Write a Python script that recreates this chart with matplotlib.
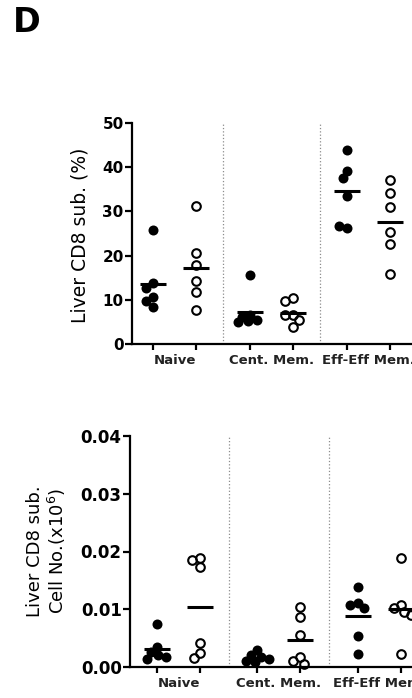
import numpy as np
import matplotlib
matplotlib.use("Agg")
import matplotlib.pyplot as plt

# groups, same for both panels
groups = ["Naive", "Cent. Mem.", "Eff-Eff Mem."]

# panel 1: Liver CD8 sub. (%), filled = group A, open = group B
pct_naive_a = [25.7, 13.7, 12.7, 10.6, 9.7, 8.4]
pct_naive_b = [31.3, 20.5, 17.9, 14.3, 11.8, 7.8]
pct_cent_a = [15.6, 6.5, 6.0, 5.5, 5.2, 5.0]
pct_cent_b = [10.3, 9.8, 6.6, 6.6, 5.4, 3.8]
pct_eff_a = [44.0, 39.1, 37.5, 33.5, 26.3, 26.8]
pct_eff_b = [37.1, 34.1, 31.1, 25.4, 22.6, 15.8]

# panel 2: Liver CD8 sub. cell number (x10^6)
num_naive_a = [0.0074, 0.0035, 0.0026, 0.0021, 0.0017, 0.0014]
num_naive_b = [0.0188, 0.0186, 0.0173, 0.0042, 0.0024, 0.0015]
num_cent_a = [0.0029, 0.0020, 0.0017, 0.0013, 0.0010, 0.0008]
num_cent_b = [0.0104, 0.0086, 0.0056, 0.0017, 0.0010, 0.0005]
num_eff_a = [0.0138, 0.0110, 0.0107, 0.0102, 0.0054, 0.0022]
num_eff_b = [0.0188, 0.0108, 0.0102, 0.0095, 0.0090, 0.0022]

pct_ticks = [0, 10, 20, 30, 40, 50]
num_ticks = [0.00, 0.01, 0.02, 0.03, 0.04]


def swarm(ax, vals, x0, d_px=8.0, max_px=12.0):
    # simple beeswarm in pixel space so dots don't pile up
    pts = ax.transData.transform(np.column_stack([np.full(len(vals), x0), vals]))
    ux = ax.transData.transform((1, 0))[0] - ax.transData.transform((0, 0))[0]
    placed = []
    offs = []
    for y in pts[:, 1]:
        cands = [0.0]
        for px, py in placed:
            dy = abs(y - py)
            if dy < d_px:
                dx = np.sqrt(d_px ** 2 - dy ** 2)
                cands += [px - dx, px + dx]
        cands = sorted(cands, key=abs)
        chosen = None
        for c in cands:
            if abs(c) > max_px:
                continue
            if all((c - px) ** 2 + (y - py) ** 2 >= d_px ** 2 - 1e-6 for px, py in placed):
                chosen = c
                break
        if chosen is None:
            grid = np.linspace(-max_px, max_px, 13)
            chosen = max(grid, key=lambda c: min((c - px) ** 2 + (y - py) ** 2 for px, py in placed))
        placed.append((chosen, y))
        offs.append(chosen)
    return x0 + np.array(offs) / ux


def panel(ax, data, pos, seps, xlim, ylim, yticks, yfmt, tick_fs):
    ax.set_xlim(*xlim)
    ax.set_ylim(*ylim)
    for s in seps:
        ax.axvline(s, color="#8c8c8c", ls=":", lw=0.9, zorder=1)
    for i, vals in enumerate(data):
        filled = i % 2 == 0
        xs = swarm(ax, vals, pos[i])
        if filled:
            ax.plot(xs, vals, "o", ms=7.2, mfc="black", mec="black", mew=0, zorder=3, clip_on=False)
        else:
            ax.plot(xs, vals, "o", ms=6.2, mfc="none", mec="black", mew=1.5, zorder=3, clip_on=False)
        ax.hlines(np.mean(vals), pos[i] - 0.3, pos[i] + 0.3, color="black", lw=2.2, zorder=4)

    for sp in ["top", "right"]:
        ax.spines[sp].set_visible(False)
    for sp in ["left", "bottom"]:
        ax.spines[sp].set_linewidth(1.6)

    ax.set_yticks(yticks)
    ax.set_yticklabels([yfmt.format(t) for t in yticks], fontsize=tick_fs, fontweight="bold")
    ax.tick_params(axis="y", length=5, width=1.6, pad=1)

    ax.set_xticks(pos)
    ax.set_xticklabels([])
    ax.tick_params(axis="x", which="major", length=4.5, width=1.6)
    centers = [(pos[0] + pos[1]) / 2, (pos[2] + pos[3]) / 2, (pos[4] + pos[5]) / 2]
    ax.set_xticks(centers, minor=True)
    ax.set_xticklabels(groups, minor=True, fontsize=9.5, fontweight="bold", color="#222222")
    ax.tick_params(axis="x", which="minor", length=0, pad=7)


fig = plt.figure(figsize=(4.12, 6.98), dpi=100)

ax1 = fig.add_axes([132 / 412, 354 / 698, 280 / 412, 221 / 698])
pos1 = [0, 1, 2.25, 3.25, 4.5, 5.5]
panel(ax1, [pct_naive_a, pct_naive_b, pct_cent_a, pct_cent_b, pct_eff_a, pct_eff_b],
      pos1, [1.625, 3.875], (-0.49, 6.02), (0, 50), pct_ticks, "{:.0f}", 11)

ax2 = fig.add_axes([130 / 412, 31 / 698, 282 / 412, 231 / 698])
pos2 = [0, 1, 2.33, 3.33, 4.67, 5.67]
panel(ax2, [num_naive_a, num_naive_b, num_cent_a, num_cent_b, num_eff_a, num_eff_b],
      pos2, [1.665, 4.0], (-0.63, 5.93), (0, 0.04), num_ticks, "{:.2f}", 12)

fig.text(80 / 412, 1 - 235 / 698, "Liver CD8 sub. (%)", rotation=90, ha="center", va="center",
         fontsize=13.5)
fig.text(47 / 412, 1 - 551 / 698, "Liver CD8 sub.\nCell No.(x10$^6$)", rotation=90,
         ha="center", va="center", fontsize=13, linespacing=1.15)
fig.text(13 / 412, 1 - 6 / 698, "D", fontsize=24, fontweight="bold", ha="left", va="top")

fig.savefig("out.png", dpi=100)
